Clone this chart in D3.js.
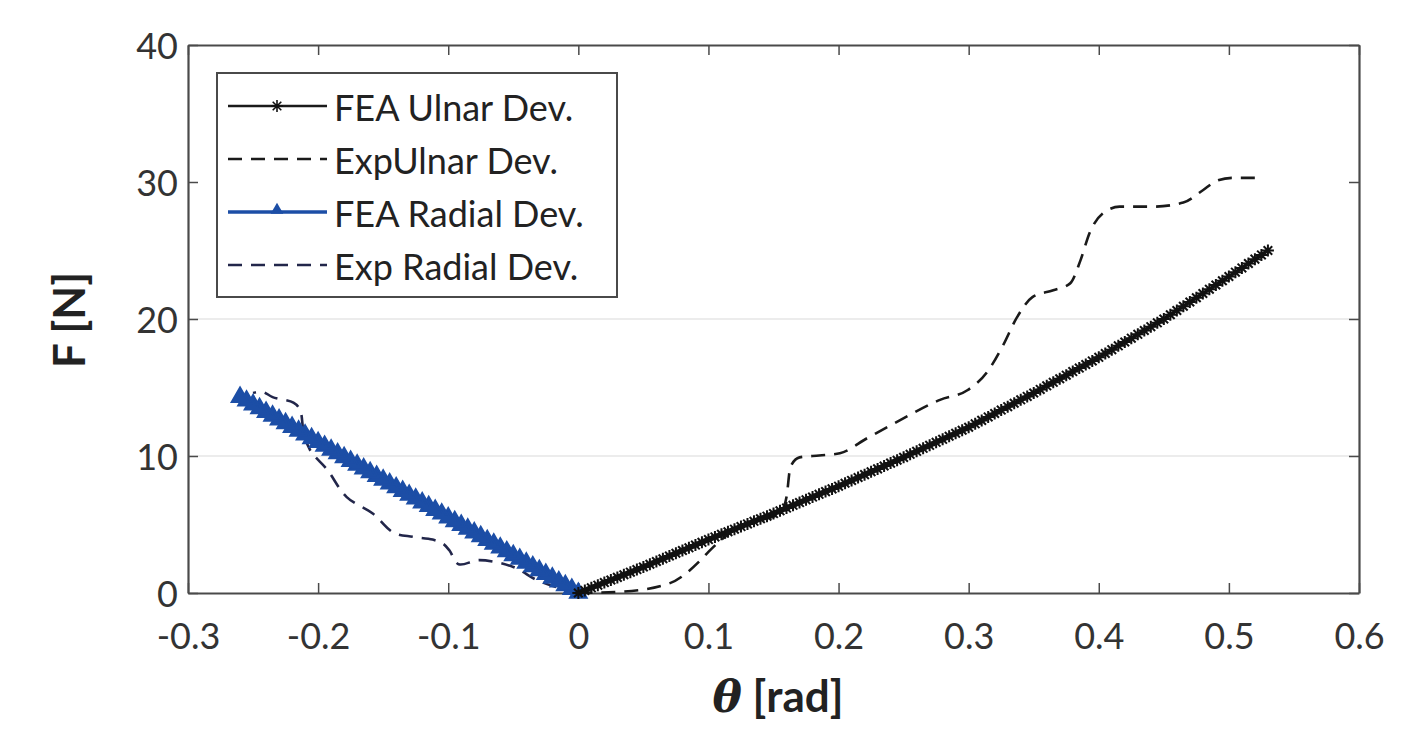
<!DOCTYPE html>
<html>
<head>
<meta charset="utf-8">
<script src="https://cdn.jsdelivr.net/npm/d3@7"></script>
<style>
  body { margin: 0; background: #fff; }
  svg { display: block; }
</style>
</head>
<body>
<svg id="chart" width="1426" height="730"></svg>
<script>
// ---- data ----
const xTicks = [-0.3, -0.2, -0.1, 0, 0.1, 0.2, 0.3, 0.4, 0.5, 0.6];
const xTickLabels = ["-0.3", "-0.2", "-0.1", "0", "0.1", "0.2", "0.3", "0.4", "0.5", "0.6"];
const yTicks = [0, 10, 20, 30, 40];

// FEA ulnar deviation (dense asterisk markers)
const feaUlnarTheta = [0,0.005,0.01,0.015,0.02,0.025,0.03,0.035,0.04,0.045,0.05,0.055,0.06,0.065,0.07,0.075,0.08,0.085,0.09,0.095,
  0.1,0.105,0.11,0.115,0.12,0.125,0.13,0.135,0.14,0.145,0.15,0.155,0.16,0.165,0.17,0.175,0.18,0.185,0.19,0.195,
  0.2,0.205,0.21,0.215,0.22,0.225,0.23,0.235,0.24,0.245,0.25,0.255,0.26,0.265,0.27,0.275,0.28,0.285,0.29,0.295,
  0.3,0.305,0.31,0.315,0.32,0.325,0.33,0.335,0.34,0.345,0.35,0.355,0.36,0.365,0.37,0.375,0.38,0.385,0.39,0.395,
  0.4,0.405,0.41,0.415,0.42,0.425,0.43,0.435,0.44,0.445,0.45,0.455,0.46,0.465,0.47,0.475,0.48,0.485,0.49,0.495,
  0.5,0.505,0.51,0.515,0.52,0.525,0.53];
const feaUlnarF = [0,0.19,0.38,0.57,0.76,0.95,1.14,1.33,1.52,1.71,1.9,2.1,2.3,2.5,2.7,2.9,3.1,3.3,3.5,3.7,
  3.9,4.09,4.28,4.47,4.66,4.85,5.04,5.23,5.42,5.61,5.8,6.0,6.2,6.4,6.6,6.8,7.0,7.2,7.4,7.6,
  7.8,8.01,8.22,8.43,8.64,8.85,9.06,9.27,9.48,9.69,9.9,10.12,10.34,10.56,10.78,11.0,11.22,11.44,11.66,11.88,
  12.1,12.35,12.6,12.85,13.1,13.35,13.6,13.85,14.1,14.35,14.6,14.86,15.12,15.38,15.64,15.9,16.16,16.42,16.68,16.94,
  17.2,17.48,17.76,18.04,18.32,18.6,18.88,19.16,19.44,19.72,20.0,20.31,20.62,20.93,21.24,21.55,21.86,22.17,22.48,22.79,
  23.1,23.42,23.73,24.05,24.37,24.68,25.0];

// experimental ulnar deviation
const expUlnarTheta = [0,0.034,0.07,0.094,0.1,0.12,0.14,0.155,0.16,0.163,0.17,0.18,0.201,0.222,0.247,0.278,0.299,0.314,0.326,0.337,0.349,0.365,0.378,0.386,0.393,0.403,0.416,0.442,0.465,0.48,0.491,0.503,0.524];
const expUlnarF = [0,0.1,0.7,2.4,3.0,4.6,5.3,5.8,7.0,9.2,9.9,10.0,10.2,11.3,12.6,14.1,14.8,16.1,18.0,20.1,21.6,22.1,22.6,24.3,26.3,27.7,28.2,28.2,28.5,29.4,30.1,30.3,30.3];

// FEA radial deviation (dense triangle markers)
const feaRadialTheta = [0,-0.005,-0.01,-0.015,-0.02,-0.025,-0.03,-0.035,-0.04,-0.045,-0.05,-0.055,-0.06,-0.065,-0.07,-0.075,-0.08,-0.085,-0.09,-0.095,
  -0.1,-0.105,-0.11,-0.115,-0.12,-0.125,-0.13,-0.135,-0.14,-0.145,-0.15,-0.155,-0.16,-0.165,-0.17,-0.175,-0.18,-0.185,-0.19,-0.195,
  -0.2,-0.205,-0.21,-0.215,-0.22,-0.225,-0.23,-0.235,-0.24,-0.245,-0.25,-0.255,-0.26];
const feaRadialF = [0,0.28,0.55,0.83,1.1,1.38,1.65,1.93,2.2,2.48,2.75,3.03,3.3,3.58,3.85,4.13,4.4,4.68,4.95,5.23,
  5.5,5.78,6.05,6.33,6.6,6.88,7.15,7.43,7.7,7.98,8.25,8.53,8.8,9.08,9.35,9.63,9.9,10.18,10.45,10.73,
  11.0,11.28,11.55,11.83,12.1,12.38,12.65,12.93,13.2,13.48,13.75,14.03,14.3];

// experimental radial deviation
const expRadialTheta = [0,-0.016,-0.032,-0.05,-0.076,-0.092,-0.099,-0.104,-0.112,-0.127,-0.142,-0.158,-0.178,-0.193,-0.206,-0.211,-0.214,-0.219,-0.235,-0.243,-0.25];
const expRadialF = [0,0.4,0.95,1.9,2.4,2.1,3.1,3.6,3.9,4.1,4.4,5.8,7.0,9.0,10.4,11.7,13.4,13.9,14.3,14.7,14.6];

const legendLabels = ["FEA Ulnar Dev.", "ExpUlnar Dev.", "FEA Radial Dev.", "Exp Radial Dev."];

// ---- layout ----
const plotL = 188, plotR = 1359, plotT = 45, plotB = 593;
const font = "Lato, 'Open Sans', sans-serif";
const blue = "#1c4ea6";
const axisColor = "#4a4a4a";

const svg = d3.select("#chart");
const x = d3.scaleLinear().domain([-0.3, 0.6]).range([plotL, plotR]);
const y = d3.scaleLinear().domain([0, 40]).range([plotB, plotT]);

const zip = (a, b) => a.map((v, i) => [v, b[i]]);

// faint grid lines as in the picture
svg.append("g").selectAll("line")
  .data([10, 20])
  .join("line")
  .attr("x1", plotL).attr("x2", plotR)
  .attr("y1", d => y(d)).attr("y2", d => y(d))
  .attr("stroke", "#ececec").attr("stroke-width", 2);

// axes (ticks pointing inward)
function styleAxis(g) {
  g.select(".domain").attr("stroke", axisColor).attr("stroke-width", 2.2);
  g.selectAll(".tick line").attr("stroke", axisColor).attr("stroke-width", 1.5);
  g.selectAll("text").attr("fill", "#333").style("font-family", font).style("font-size", "36px");
}
svg.append("g").attr("transform", `translate(0,${plotB})`)
  .call(d3.axisBottom(x).tickValues(xTicks).tickSizeInner(-10).tickSizeOuter(0).tickPadding(30)
    .tickFormat((d, i) => xTickLabels[i]))
  .call(styleAxis);
svg.append("g").attr("transform", `translate(0,${plotT})`)
  .call(d3.axisTop(x).tickValues(xTicks).tickSizeInner(-10).tickSizeOuter(0).tickFormat(""))
  .call(styleAxis);
svg.append("g").attr("transform", `translate(${plotL},0)`)
  .call(d3.axisLeft(y).tickValues(yTicks).tickSizeInner(-10).tickSizeOuter(0).tickPadding(10))
  .call(styleAxis)
  .selectAll("text").attr("dy", "0.38em");
svg.append("g").attr("transform", `translate(${plotR},0)`)
  .call(d3.axisRight(y).tickValues(yTicks).tickSizeInner(-10).tickSizeOuter(0).tickFormat(""))
  .call(styleAxis);

// markers
const asterisk = "M-6,0H6M0,-6V6M-4.3,-4.3L4.3,4.3M-4.3,4.3L4.3,-4.3";
const triangle = d3.symbol().type(d3.symbolTriangle).size(120)();

// experimental curves (dashed)
svg.append("path")
  .attr("d", d3.line().x(d => x(d[0])).y(d => y(d[1])).curve(d3.curveMonotoneX)(zip(expUlnarTheta, expUlnarF)))
  .attr("fill", "none").attr("stroke", "#1a1a1a").attr("stroke-width", 2.6)
  .attr("stroke-dasharray", "14,9");
svg.append("path")
  .attr("d", d3.line().x(d => x(d[0])).y(d => y(d[1])).curve(d3.curveCatmullRom)(zip(expRadialTheta, expRadialF)))
  .attr("fill", "none").attr("stroke", "#22264a").attr("stroke-width", 2.6)
  .attr("stroke-dasharray", "14,9");

// FEA radial
const rad = zip(feaRadialTheta, feaRadialF);
svg.append("path")
  .attr("d", d3.line().x(d => x(d[0])).y(d => y(d[1]))(rad))
  .attr("fill", "none").attr("stroke", blue).attr("stroke-width", 9);
svg.append("g").selectAll("path")
  .data(rad).join("path")
  .attr("transform", d => `translate(${x(d[0])},${y(d[1])})`)
  .attr("d", triangle)
  .attr("fill", blue).attr("stroke", blue).attr("stroke-width", 2);

// FEA ulnar
const uln = zip(feaUlnarTheta, feaUlnarF);
svg.append("path")
  .attr("d", d3.line().x(d => x(d[0])).y(d => y(d[1]))(uln))
  .attr("fill", "none").attr("stroke", "#111").attr("stroke-width", 3);
svg.append("g").selectAll("path")
  .data(uln).join("path")
  .attr("transform", d => `translate(${x(d[0])},${y(d[1])})`)
  .attr("d", asterisk)
  .attr("fill", "none").attr("stroke", "#111").attr("stroke-width", 2);

// legend
const lg = svg.append("g");
lg.append("rect")
  .attr("x", 217).attr("y", 73).attr("width", 400).attr("height", 224)
  .attr("fill", "#fff").attr("stroke", axisColor).attr("stroke-width", 2);
const rows = lg.selectAll("g.row").data(legendLabels).join("g")
  .attr("class", "row")
  .attr("transform", (d, i) => `translate(0,${121 + i * 53})`);
rows.append("line")
  .attr("x1", 228).attr("x2", 327).attr("y1", -15).attr("y2", -15)
  .attr("stroke", (d, i) => i === 2 ? blue : (i === 3 ? "#22264a" : "#1a1a1a"))
  .attr("stroke-width", (d, i) => i === 2 ? 3.5 : 2.6)
  .attr("stroke-dasharray", (d, i) => i % 2 === 1 ? "14,9" : null);
rows.filter((d, i) => i === 0).append("path")
  .attr("transform", "translate(277,-15)").attr("d", asterisk)
  .attr("fill", "none").attr("stroke", "#111").attr("stroke-width", 1.6);
rows.filter((d, i) => i === 2).append("path")
  .attr("transform", "translate(277,-17)")
  .attr("d", d3.symbol().type(d3.symbolTriangle).size(70)())
  .attr("fill", blue);
rows.append("text")
  .attr("x", 334).attr("y", 0)
  .text(d => d)
  .attr("fill", "#222").style("font-family", font).style("font-size", "36px");

// axis titles
svg.append("text")
  .attr("transform", "translate(85,320) rotate(-90)")
  .attr("text-anchor", "middle")
  .style("font-family", font).style("font-size", "44px").style("font-weight", "bold")
  .attr("fill", "#222")
  .text("F [N]");
const xt = svg.append("text")
  .attr("x", 778).attr("y", 712)
  .attr("text-anchor", "middle")
  .style("font-family", font).style("font-size", "44px").style("font-weight", "bold")
  .attr("fill", "#222");
xt.append("tspan").style("font-family", "'DejaVu Serif', 'Liberation Serif', serif").style("font-style", "italic").text("θ");
xt.append("tspan").text(" [rad]");
</script>
</body>
</html>
